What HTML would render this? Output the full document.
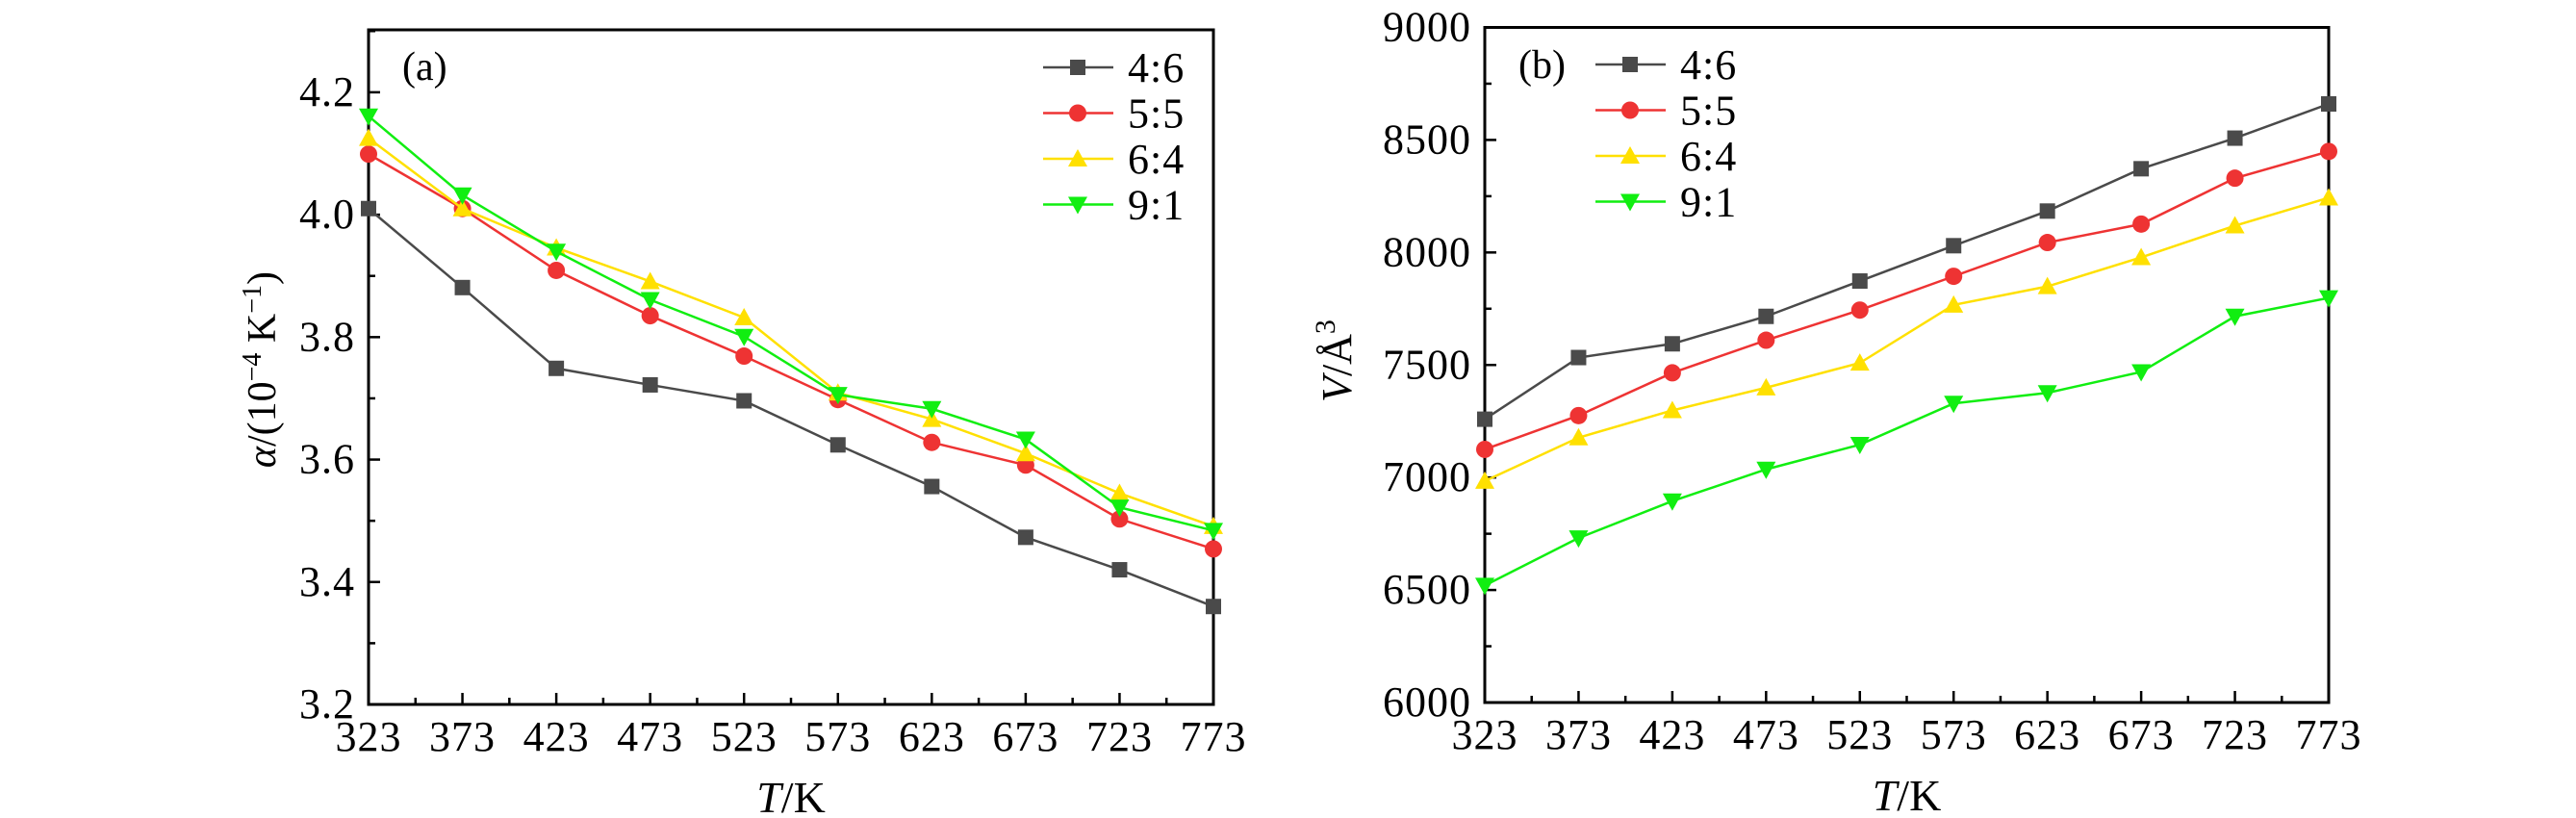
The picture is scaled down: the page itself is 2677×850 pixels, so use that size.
<!DOCTYPE html>
<html><head><meta charset="utf-8"><style>
html,body{margin:0;padding:0;background:#fff;}
svg{display:block;font-family:"Liberation Serif",serif;}
</style></head><body>
<svg id="chart" width="2677" height="850" viewBox="0 0 2677 850" xmlns="http://www.w3.org/2000/svg"></svg>
<script>
const categories=[323,373,423,473,523,573,623,673,723,773];
const seriesNames=["4:6","5:5","6:4","9:1"];
const seriesColors=["#4a4a4a","#ee3333","#ffe000","#11ee11"];
const seriesMarkers=["square","circle","up","down"];
const alpha46=[4.010,3.881,3.749,3.722,3.696,3.624,3.556,3.473,3.420,3.360];
const alpha55=[4.099,4.010,3.909,3.835,3.769,3.698,3.628,3.591,3.503,3.454];
const alpha64=[4.125,4.010,3.946,3.891,3.832,3.709,3.666,3.610,3.545,3.491];
const alpha91=[4.161,4.032,3.940,3.861,3.801,3.706,3.683,3.633,3.522,3.484];
const vol46=[7259,7533,7594,7716,7873,8030,8184,8372,8508,8660];
const vol55=[7125,7275,7465,7610,7744,7894,8044,8126,8330,8449];
const vol64=[6984,7177,7298,7399,7509,7767,7849,7978,8119,8243];
const vol91=[6520,6731,6895,7036,7146,7329,7376,7469,7716,7798];
const alphaTicks=["3.2","3.4","3.6","3.8","4.0","4.2"];
const volTicks=["6000","6500","7000","7500","8000","8500","9000"];

const NS="http://www.w3.org/2000/svg";
const svg=document.getElementById('chart');
function mk(tag,attrs,parent){const e=document.createElementNS(NS,tag);for(const k in attrs)e.setAttribute(k,attrs[k]);(parent||svg).appendChild(e);return e;}

function marker(g,type,x,y,color){
  let e;const s=8;
  if(type==="square")e=mk('rect',{x:x-s,y:y-s,width:2*s,height:2*s,fill:color},g);
  else if(type==="circle")e=mk('circle',{cx:x,cy:y,r:s+1,fill:color},g);
  else if(type==="up")e=mk('polygon',{points:`${x},${y-s-2} ${x-s-2},${y+s} ${x+s+2},${y+s}`,fill:color},g);
  else e=mk('polygon',{points:`${x},${y+s+2} ${x-s-2},${y-s} ${x+s+2},${y-s}`,fill:color},g);
  return e;
}

function panel(opt){
  const g=mk('g',{});
  
  
  const X=v=>opt.x0+(v-categories[0])/(categories[categories.length-1]-categories[0])*(opt.x1-opt.x0);
  const Y=v=>opt.y1-(v-opt.ymin)/(opt.ymax-opt.ymin)*(opt.y1-opt.y0);
  const fr=mk('rect',{x:opt.x0,y:opt.y0,width:opt.x1-opt.x0,height:opt.y1-opt.y0,fill:'none',stroke:'#000','stroke-width':3},g);
  
  
  for(let i=0;i<categories.length;i++){
    const x=X(categories[i]);
    mk('line',{x1:x,x2:x,y1:opt.y1,y2:opt.y1-12,stroke:'#000','stroke-width':2.5},g);
    if(i<categories.length-1){const xm=X(categories[i]+25);mk('line',{x1:xm,x2:xm,y1:opt.y1,y2:opt.y1-7,stroke:'#000','stroke-width':2.5},g);}
    const t=mk('text',{x:x,y:opt.y1+48,'text-anchor':'middle','font-size':44,'letter-spacing':1},g);
    t.textContent=categories[i];
    
    
  }
  const tv=opt.ticks.map(Number);
  for(let i=0;i<tv.length;i++){
    const y=Y(tv[i]);
    mk('line',{x1:opt.x0,x2:opt.x0+12,y1:y,y2:y,stroke:'#000','stroke-width':2.5},g);
    const mid=tv[i]+(tv[1]-tv[0])/2;
    if(mid<opt.ymax){const ym=Y(mid);mk('line',{x1:opt.x0,x2:opt.x0+7,y1:ym,y2:ym,stroke:'#000','stroke-width':2.5},g);}
    const t=mk('text',{x:opt.x0-14,y:y+14,'text-anchor':'end','font-size':44,'letter-spacing':1},g);
    t.textContent=opt.ticks[i];
    
    
  }
  opt.series.forEach((data,si)=>{
    const sg=mk('g',{},g);
    
    
    const pts=data.map((v,i)=>X(categories[i])+','+Y(v)).join(' ');
    mk('polyline',{points:pts,fill:'none',stroke:seriesColors[si],'stroke-width':2.5},sg);
    data.forEach((v,i)=>{
      const m=marker(sg,seriesMarkers[si],X(categories[i]),Y(v),seriesColors[si]);
      
      
    });
  });
  const lg=mk('g',{},g);
  
  
  seriesNames.forEach((n,si)=>{
    const y=opt.legY+si*47.5;
    const eg=mk('g',{},lg);
    
    
    mk('line',{x1:opt.legX,x2:opt.legX+73,y1:y,y2:y,stroke:seriesColors[si],'stroke-width':2.5},eg);
    marker(eg,seriesMarkers[si],opt.legX+36,y,seriesColors[si]);
    const t=mk('text',{x:opt.legX+88,y:y+15,'font-size':44,'letter-spacing':1},eg);
    t.textContent=n;
  });
  const pl=mk('text',{x:opt.labX,y:opt.labY,'font-size':42},g);
  pl.textContent=opt.label;
  
  
  const xt=mk('text',{x:(opt.x0+opt.x1)/2,y:opt.y1+112,'text-anchor':'middle','font-size':46},g);
  xt.innerHTML='<tspan font-style="italic">T</tspan>/K';
  
  
  const yt=mk('text',{x:0,y:0,'text-anchor':'middle','font-size':opt.ytSize,transform:`translate(${opt.ytX},${opt.ytY}) rotate(-90)`},g);
  yt.innerHTML=opt.ytitle;
  
  
}

panel({name:'panel-a-alpha',x0:383,x1:1261,y0:31,y1:732,ymin:3.2,ymax:4.302,ticks:alphaTicks,
  series:[alpha46,alpha55,alpha64,alpha91],legX:1084,legY:70,labX:418,labY:83,label:'(a)',
  ytX:286,ytY:384,ytSize:42,
  ytitle:'<tspan font-style="italic">α</tspan>/(10<tspan dy="-15" font-size="28">−4</tspan><tspan dy="15"> K</tspan><tspan dy="-15" font-size="28">−1</tspan><tspan dy="15">)</tspan>'});
panel({name:'panel-b-volume',x0:1543,x1:2420,y0:28.5,y1:730,ymin:6000,ymax:9000,ticks:volTicks,
  series:[vol46,vol55,vol64,vol91],legX:1658,legY:67,labX:1578,labY:81,label:'(b)',
  ytX:1404,ytY:375,ytSize:44,
  ytitle:'<tspan font-style="italic">V</tspan>/Å<tspan dy="-17" font-size="30">3</tspan>'});
</script>
</body></html>
